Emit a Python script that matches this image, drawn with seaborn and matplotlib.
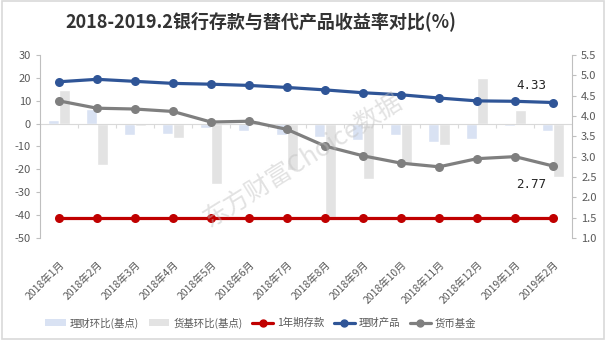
import numpy as np
import pandas as pd
import matplotlib
matplotlib.use("Agg")
import matplotlib.pyplot as plt
from matplotlib.patches import Rectangle, Patch
from matplotlib.lines import Line2D
import seaborn as sns

months = ["2018年1月", "2018年2月", "2018年3月", "2018年4月", "2018年5月", "2018年6月",
          "2018年7月", "2018年8月", "2018年9月", "2018年10月", "2018年11月", "2018年12月",
          "2019年1月", "2019年2月"]

# 环比变化 (基点), left axis
licai_chg = [1.5, 6.5, -5.1, -4.4, -1.8, -3.2, -5.1, -5.8, -7.3, -5.1, -8.0, -6.6, -1.0, -3.2]
huoji_chg = [14.6, -18.3, -1.2, -6.4, -26.6, 1.5, -20.5, -40.9, -24.0, -17.5, -9.5, 19.7, 5.8, -23.4]

# 收益率 (%), right axis
deposit = [1.5] * 14
licai = [4.84, 4.90, 4.85, 4.80, 4.78, 4.75, 4.70, 4.64, 4.57, 4.52, 4.44, 4.37, 4.36, 4.33]
huoji = [4.37, 4.19, 4.17, 4.11, 3.85, 3.87, 3.67, 3.26, 3.02, 2.84, 2.75, 2.95, 3.00, 2.77]

bar_names = ["理财环比(基点)", "货基环比(基点)"]
bar_colors = ["#D9E2F3", "#E3E3E3"]
line_names = ["1年期存款", "理财产品", "货币基金"]
line_colors = ["#C00000", "#2F5597", "#7F7F7F"]

sns.set_style("white")
plt.rcParams["font.family"] = ["Noto Sans CJK SC", "DejaVu Sans"]
plt.rcParams["axes.unicode_minus"] = False

fig = plt.figure(figsize=(6.06, 3.41), dpi=100)
ax = fig.add_axes([0.066, 0.302, 0.878, 0.537])

bars = pd.DataFrame({
    "月份": months * 2,
    "值": licai_chg + huoji_chg,
    "系列": [bar_names[0]] * 14 + [bar_names[1]] * 14,
})
sns.barplot(data=bars, x="月份", y="值", hue="系列", palette=bar_colors,
            width=0.58, ax=ax, legend=False, saturation=1)

x = np.arange(len(months))
ax.set_xlim(-0.5, len(months) - 0.5)
ax.set_ylim(-50, 30)
ax.set_yticks(np.arange(-50, 31, 10))
ax.set_xlabel("")
ax.set_ylabel("")
ax.axhline(0, color="#D9D9D9", lw=0.8, zorder=1)
ax.vlines(np.arange(len(months) + 1) - 0.5, -1.8, 0, color="#D9D9D9", lw=0.8)
ax.set_xticks(x)
ax.set_xticklabels(months, rotation=45, ha="right", va="top",
                   rotation_mode="anchor", fontsize=7.5, color="#595959")
ax.tick_params(axis="x", length=0, pad=15)
ax.tick_params(axis="y", labelsize=8, labelcolor="#595959", length=3,
               color="#BFBFBF", left=True)
for s in ["top", "bottom", "right"]:
    ax.spines[s].set_visible(False)
ax.spines["left"].set_color("#BFBFBF")

ax2 = ax.twinx()
for vals, name, col in zip([deposit, licai, huoji], line_names, line_colors):
    sns.lineplot(x=x, y=vals, color=col, lw=2.3, marker="o", markersize=6.5,
                 markeredgewidth=0, ax=ax2, label=name, legend=False)
ax2.set_ylim(1.0, 5.5)
ax2.set_yticks(np.arange(1.0, 5.51, 0.5))
ax2.set_yticklabels([f"{v:.1f}" for v in np.arange(1.0, 5.51, 0.5)])
ax2.tick_params(axis="y", labelsize=8, labelcolor="#595959", length=3,
                color="#BFBFBF", right=True)
for s in ["top", "bottom", "left"]:
    ax2.spines[s].set_visible(False)
ax2.spines["right"].set_color("#BFBFBF")
ax2.set_xlim(-0.5, len(months) - 0.5)

ax2.annotate(f"{licai[-1]:.2f}", (x[-1], licai[-1]), xytext=(-5, 12),
             textcoords="offset points", ha="right", va="center", fontsize=9,
             family="DejaVu Sans Mono", color="#262626")
ax2.annotate(f"{huoji[-1]:.2f}", (x[-1], huoji[-1]), xytext=(-5, -13),
             textcoords="offset points", ha="right", va="center", fontsize=9,
             family="DejaVu Sans Mono", color="#262626")

fig.text(0.43, 0.938, "2018-2019.2银行存款与替代产品收益率对比(%)",
         ha="center", va="center", fontsize=13, fontweight="bold", color="#333333")

fig.text(0.5, 0.53, "东方财富Choice数据", rotation=32, ha="center", va="center",
         fontsize=18, color="#BFBFBF", alpha=0.45, zorder=10)

handles = [Patch(facecolor=c, edgecolor="none") for c in bar_colors]
handles += [Line2D([], [], color=c, lw=2.3, marker="o", markersize=5) for c in line_colors]
leg = fig.legend(handles, bar_names + line_names, loc="center", ncol=5,
                 bbox_to_anchor=(0.43, 0.053), frameon=False, fontsize=7.5,
                 handlelength=2.0, handleheight=0.7, columnspacing=0.9,
                 handletextpad=0.4)
for t in leg.get_texts():
    t.set_color("#595959")

fig.patches.append(Rectangle((0.003, 0.006), 0.994, 0.99, transform=fig.transFigure,
                             fill=False, edgecolor="#D9D9D9", lw=1.2))

fig.savefig("out.png", dpi=100)
